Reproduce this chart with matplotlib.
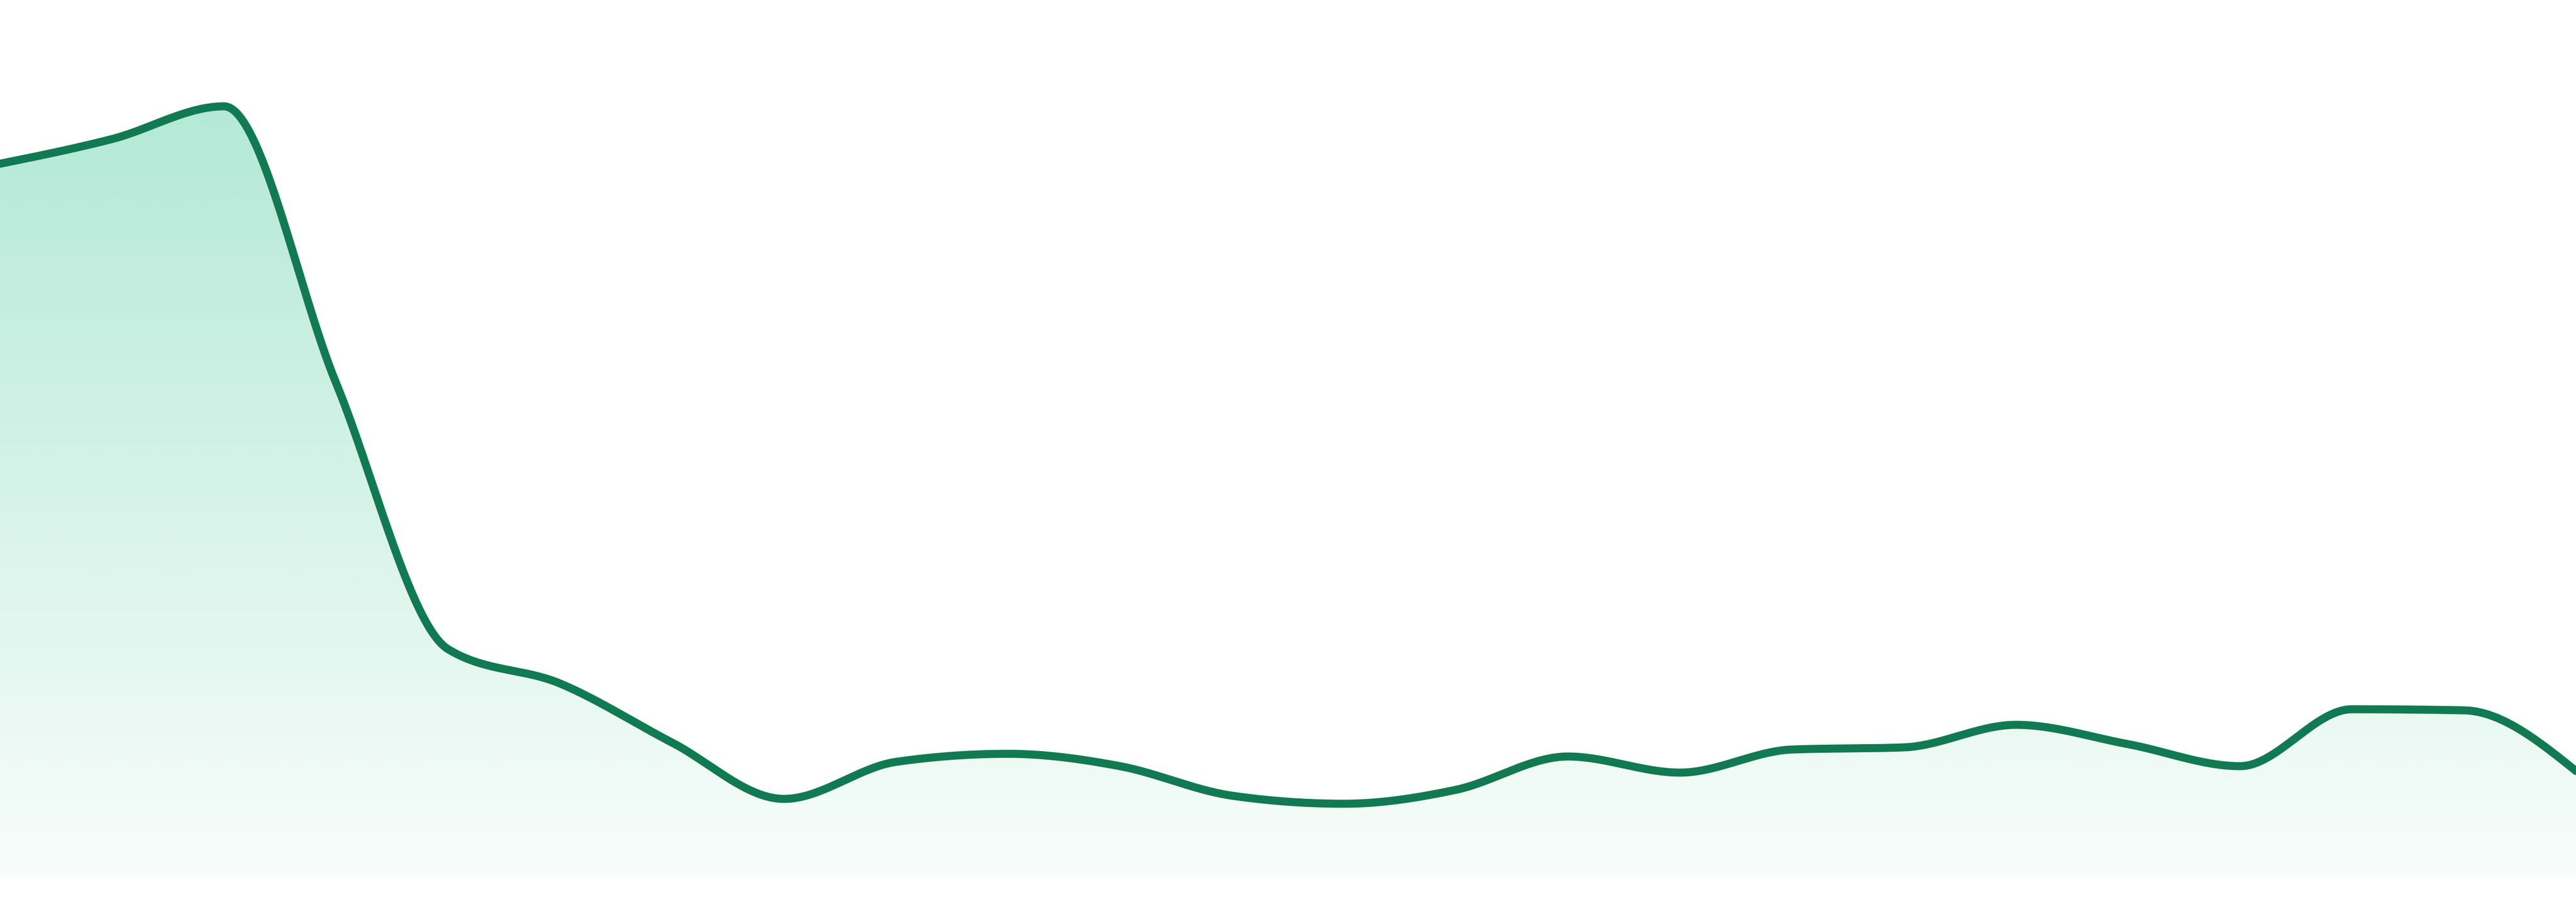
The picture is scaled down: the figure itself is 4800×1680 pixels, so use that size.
import numpy as np
import matplotlib
matplotlib.use("Agg")
import matplotlib.pyplot as plt
from matplotlib.patches import PathPatch

# sparkline values, one per period (arbitrary units)
periods = list(range(24))
values = [132.7, 137.3, 143.4, 91.9, 42.3, 35.9, 24.9, 14.4, 21.3, 22.8, 20.5, 15.0,
          13.5, 16.1, 22.3, 19.3, 23.6, 24.0, 28.2, 24.6, 20.5, 31.1, 30.9, 19.6]

LINE_COLOR = "#117a52"
FILL_RGB = (16 / 255, 185 / 255, 129 / 255)


def monotone_slopes(x, y):
    # same slopes as d3.curveMonotoneX
    x = np.asarray(x, float)
    y = np.asarray(y, float)
    n = len(x)
    t = np.zeros(n)
    for i in range(1, n - 1):
        h0 = x[i] - x[i - 1]
        h1 = x[i + 1] - x[i]
        s0 = (y[i] - y[i - 1]) / h0
        s1 = (y[i + 1] - y[i]) / h1
        p = (s0 * h1 + s1 * h0) / (h0 + h1)
        t[i] = (np.sign(s0) + np.sign(s1)) * min(abs(s0), abs(s1), 0.5 * abs(p))
    h = x[1] - x[0]
    t[0] = (3 * (y[1] - y[0]) / h - t[1]) / 2
    h = x[-1] - x[-2]
    t[-1] = (3 * (y[-1] - y[-2]) / h - t[-2]) / 2
    return t


def smooth_curve(x, y, steps=60):
    x = np.asarray(x, float)
    y = np.asarray(y, float)
    t = monotone_slopes(x, y)
    xs, ys = [], []
    for i in range(len(x) - 1):
        dx = x[i + 1] - x[i]
        u = np.linspace(0, 1, steps, endpoint=False)
        h00 = 2 * u ** 3 - 3 * u ** 2 + 1
        h10 = u ** 3 - 2 * u ** 2 + u
        h01 = -2 * u ** 3 + 3 * u ** 2
        h11 = u ** 3 - u ** 2
        xs.append(x[i] + u * dx)
        ys.append(h00 * y[i] + h10 * dx * t[i] + h01 * y[i + 1] + h11 * dx * t[i + 1])
    xs.append([x[-1]])
    ys.append([y[-1]])
    return np.concatenate(xs), np.concatenate(ys)


fig = plt.figure(figsize=(16, 5.6), dpi=300)
ax = fig.add_axes([0, 48 / 1680, 1, 1632 / 1680])
ax.set_xlim(periods[0], periods[-1])
ax.set_ylim(0, 163.2)
ax.axis("off")

cx, cy = smooth_curve(periods, values)

# area under the curve, filled with a vertical gradient
poly = ax.fill_between(cx, cy, 0, facecolor="none", edgecolor="none")
top = max(values)
grad = np.zeros((256, 1, 4))
grad[:, 0, :3] = FILL_RGB
grad[:, 0, 3] = np.linspace(0.03, 0.32, 256)
im = ax.imshow(grad, extent=[periods[0], periods[-1], 0, top], origin="lower",
               aspect="auto", interpolation="bilinear", zorder=1)
clip = PathPatch(poly.get_paths()[0], transform=ax.transData, facecolor="none", edgecolor="none")
ax.add_patch(clip)
im.set_clip_path(clip)
ax.set_ylim(0, 163.2)

ax.plot(cx, cy, color=LINE_COLOR, lw=3.6, solid_joinstyle="round", solid_capstyle="round", zorder=3)

fig.savefig("out.png", dpi=300, facecolor="white")
